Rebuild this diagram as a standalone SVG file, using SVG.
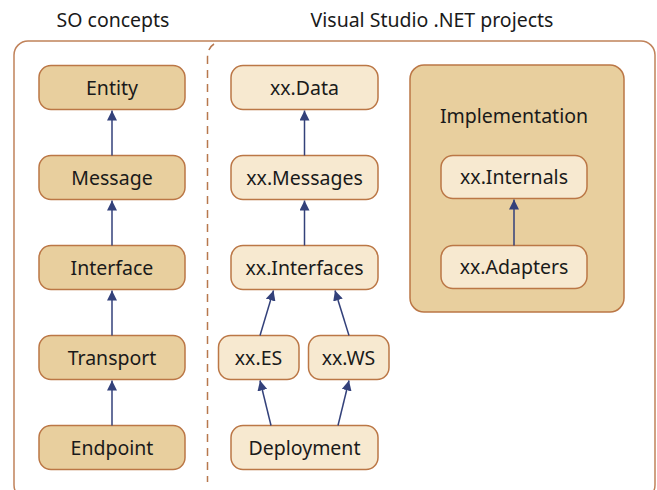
<svg xmlns="http://www.w3.org/2000/svg" width="657" height="490" viewBox="0 0 657 490">
  <defs>
    <marker id="arrow" viewBox="0 0 10 10" refX="10" refY="5" markerWidth="10" markerHeight="10" markerUnits="userSpaceOnUse" orient="auto">
      <path d="M0,0 L10,5 L0,10 Z" fill="#33417a"/>
    </marker>
    <style>
      .title { font-family: "Noto Sans", "Open Sans", sans-serif; font-size: 19.5px; fill: #1a1a1a; text-anchor: middle; }
      .label { font-family: "Noto Sans", "Open Sans", sans-serif; font-size: 19.5px; fill: #1a1a1a; text-anchor: middle; }
      .concept { fill: #e8cf9e; stroke: #bb7746; stroke-width: 1.5; }
      .project { fill: #f7e9d0; stroke: #bb7746; stroke-width: 1.5; }
      .group { fill: #e8cf9e; stroke: #bb7746; stroke-width: 1.5; }
      .frame { fill: none; stroke: #c0825a; stroke-width: 1.5; }
      .divider { fill: none; stroke: #b8784e; stroke-width: 1.5; stroke-dasharray: 8 6; }
      .link { fill: none; stroke: #33417a; stroke-width: 1.5; marker-end: url(#arrow); }
    </style>
  </defs>

  <rect width="657" height="490" fill="#ffffff"/>

  <!-- column headings -->
  <text class="title" x="113" y="27">SO concepts</text>
  <text class="title" x="432" y="27">Visual Studio .NET projects</text>

  <!-- outer frame and column divider -->
  <rect class="frame" x="14" y="41" width="641" height="458" rx="14" ry="14"/>
  <path class="divider" d="M214,44 Q207.5,48 207.5,58 L207.5,482"/>

  <!-- implementation group -->
  <g id="implementation">
    <rect class="group" x="410" y="65" width="214" height="247" rx="14" ry="14"/>
    <text class="label" x="514" y="123">Implementation</text>
  </g>

  <!-- SO concepts -->
  <g id="entity">
    <rect class="concept" x="39" y="65.5" width="146" height="44" rx="12" ry="12"/>
    <text class="label" x="112" y="94.5">Entity</text>
  </g>
  <g id="message">
    <rect class="concept" x="39" y="155.5" width="146" height="44" rx="12" ry="12"/>
    <text class="label" x="112" y="184.5">Message</text>
  </g>
  <g id="interface">
    <rect class="concept" x="39" y="245.5" width="146" height="44" rx="12" ry="12"/>
    <text class="label" x="112" y="274.5">Interface</text>
  </g>
  <g id="transport">
    <rect class="concept" x="39" y="335.5" width="146" height="44" rx="12" ry="12"/>
    <text class="label" x="112" y="364.5">Transport</text>
  </g>
  <g id="endpoint">
    <rect class="concept" x="39" y="425.5" width="146" height="44" rx="12" ry="12"/>
    <text class="label" x="112" y="454.5">Endpoint</text>
  </g>

  <!-- projects -->
  <g id="xx-data">
    <rect class="project" x="231" y="65.5" width="147" height="44" rx="12" ry="12"/>
    <text class="label" x="304.5" y="94.5">xx.Data</text>
  </g>
  <g id="xx-messages">
    <rect class="project" x="231" y="155.5" width="147" height="44" rx="12" ry="12"/>
    <text class="label" x="304.5" y="184.5">xx.Messages</text>
  </g>
  <g id="xx-interfaces">
    <rect class="project" x="231" y="245.5" width="147" height="44" rx="12" ry="12"/>
    <text class="label" x="304.5" y="274.5">xx.Interfaces</text>
  </g>
  <g id="xx-es">
    <rect class="project" x="218.5" y="335.5" width="80.5" height="44" rx="12" ry="12"/>
    <text class="label" x="258.5" y="364.5">xx.ES</text>
  </g>
  <g id="xx-ws">
    <rect class="project" x="308.5" y="335.5" width="80.5" height="44" rx="12" ry="12"/>
    <text class="label" x="348.5" y="364.5">xx.WS</text>
  </g>
  <g id="deployment">
    <rect class="project" x="231" y="425.5" width="147" height="44" rx="12" ry="12"/>
    <text class="label" x="304.5" y="454.5">Deployment</text>
  </g>
  <g id="xx-internals">
    <rect class="project" x="441" y="155.5" width="146" height="43" rx="12" ry="12"/>
    <text class="label" x="514" y="184">xx.Internals</text>
  </g>
  <g id="xx-adapters">
    <rect class="project" x="441" y="245.5" width="146" height="43" rx="12" ry="12"/>
    <text class="label" x="514" y="274">xx.Adapters</text>
  </g>

  <!-- dependency arrows -->
  <g id="connectors">
    <line class="link" x1="112" y1="155.5" x2="112" y2="110.5"/>
    <line class="link" x1="112" y1="245.5" x2="112" y2="200.5"/>
    <line class="link" x1="112" y1="335.5" x2="112" y2="290.5"/>
    <line class="link" x1="112" y1="425.5" x2="112" y2="380.5"/>

    <line class="link" x1="304.5" y1="155.5" x2="304.5" y2="110.5"/>
    <line class="link" x1="304.5" y1="245.5" x2="304.5" y2="200.5"/>
    <line class="link" x1="260" y1="335.5" x2="273.5" y2="290.5"/>
    <line class="link" x1="349" y1="335.5" x2="335" y2="290.5"/>
    <line class="link" x1="271" y1="425.5" x2="260" y2="380.5"/>
    <line class="link" x1="338" y1="425.5" x2="349" y2="380.5"/>

    <line class="link" x1="514" y1="245.5" x2="514" y2="199.5"/>
  </g>
</svg>
